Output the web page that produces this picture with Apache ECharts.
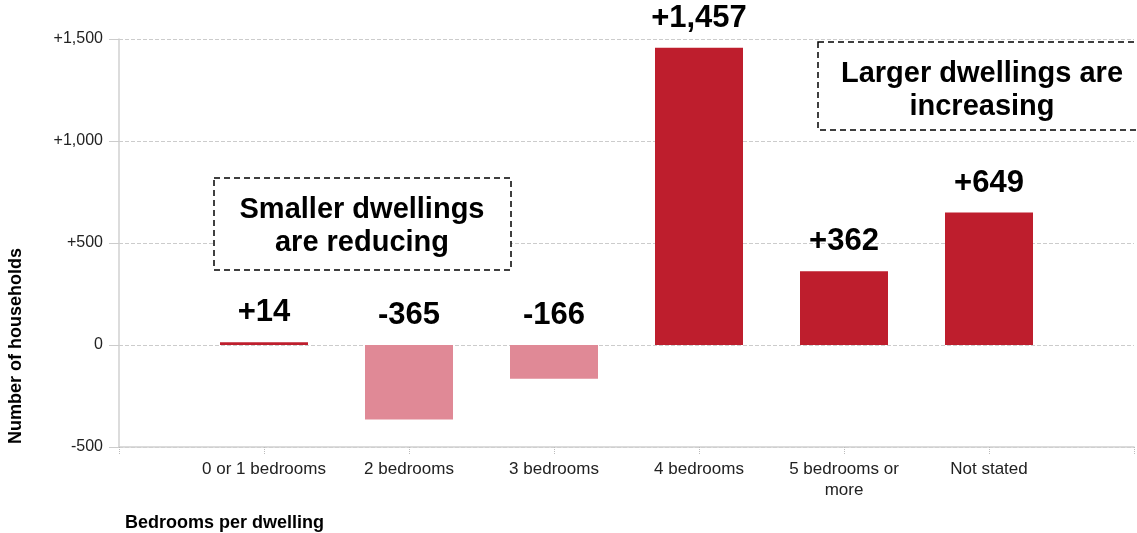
<!DOCTYPE html>
<html>
<head>
<meta charset="utf-8">
<script src="https://cdn.jsdelivr.net/npm/echarts@6/dist/echarts.min.js"></script>
<style>
  html, body {margin: 0; padding: 0; background: #fff;}
  #chart {width: 1137px; height: 533px;}
</style>
</head>
<body>
<div id="chart"></div>
<script>
const categories = ['0 or 1 bedrooms', '2 bedrooms', '3 bedrooms', '4 bedrooms', '5 bedrooms or\nmore', 'Not stated'];
const changes = [14, -365, -166, 1457, 362, 649];
const yTicks = {min: -500, max: 1500, interval: 500};

const font = '"Liberation Sans", Arial, sans-serif';
const red = '#BE1E2D';
const pink = '#E08996';

const fmt = (v) => (v > 0 ? '+' : '') + v.toLocaleString('en-US');

// pad one empty slot at each end so the bars sit where the original puts them
const axisCats = [''].concat(categories, ['']);
const barData = [null].concat(changes, [null]);
const labelData = [null].concat(changes.map(v => Math.max(v, 0)), [null]);

const chart = echarts.init(document.getElementById('chart'));
chart.setOption({
  animation: false,
  textStyle: {fontFamily: font},
  grid: {left: 119, right: 0, top: 39, bottom: 86},
  xAxis: {
    type: 'category',
    data: axisCats,
    boundaryGap: false,
    axisLine: {onZero: false, lineStyle: {color: '#d0d0d0', width: 1.5}},
    axisTick: {show: true, length: 7, lineStyle: {color: '#bbb', type: 'dotted'}},
    axisLabel: {interval: 0, fontSize: 17, color: '#222', margin: 12, lineHeight: 21, fontFamily: font},
    splitLine: {show: false}
  },
  yAxis: {
    type: 'value',
    min: yTicks.min,
    max: yTicks.max,
    interval: yTicks.interval,
    axisLine: {show: true, lineStyle: {color: '#d0d0d0', width: 1.5}},
    axisTick: {show: true, length: 10, lineStyle: {color: '#ccc'}},
    axisLabel: {fontSize: 16, color: '#222', margin: 16, fontFamily: font, formatter: fmt},
    splitLine: {lineStyle: {color: '#ccc', type: 'dashed'}}
  },
  series: [
    {
      type: 'bar',
      data: barData,
      barWidth: 88,
      itemStyle: {color: (p) => (p.value >= 0 ? red : pink)}
    },
    {
      type: 'scatter',
      data: labelData,
      symbolSize: 0,
      z: 5,
      itemStyle: {opacity: 1},
      label: {
        show: true,
        position: 'top',
        distance: 14,
        fontSize: 31,
        fontWeight: 'bold',
        color: '#000',
        textBorderWidth: 0,
        fontFamily: font,
        formatter: (p) => fmt(changes[p.dataIndex - 1])
      }
    }
  ],
  graphic: [
    {
      type: 'text', x: 16, y: 346, rotation: Math.PI / 2,
      style: {text: 'Number of households', font: 'bold 18px ' + font, fill: '#000', align: 'center', verticalAlign: 'middle'}
    },
    {
      type: 'text', x: 125, y: 523,
      style: {text: 'Bedrooms per dwelling', font: 'bold 18px ' + font, fill: '#000', align: 'left', verticalAlign: 'middle'}
    },
    {
      type: 'rect', z: 10, shape: {x: 214, y: 178, width: 297, height: 92},
      style: {fill: '#fff', stroke: '#000', lineWidth: 1.5, lineDash: [6, 4]}
    },
    {
      type: 'text', z: 11, x: 362, y: 226,
      style: {text: 'Smaller dwellings\nare reducing', font: 'bold 29px ' + font, fill: '#000', align: 'center', verticalAlign: 'middle', lineHeight: 33}
    },
    {
      type: 'rect', z: 10, shape: {x: 818, y: 42, width: 330, height: 88},
      style: {fill: '#fff', stroke: '#000', lineWidth: 1.5, lineDash: [6, 4]}
    },
    {
      type: 'text', z: 11, x: 982, y: 90,
      style: {text: 'Larger dwellings are\nincreasing', font: 'bold 29px ' + font, fill: '#000', align: 'center', verticalAlign: 'middle', lineHeight: 33}
    }
  ]
});
</script>
</body>
</html>
